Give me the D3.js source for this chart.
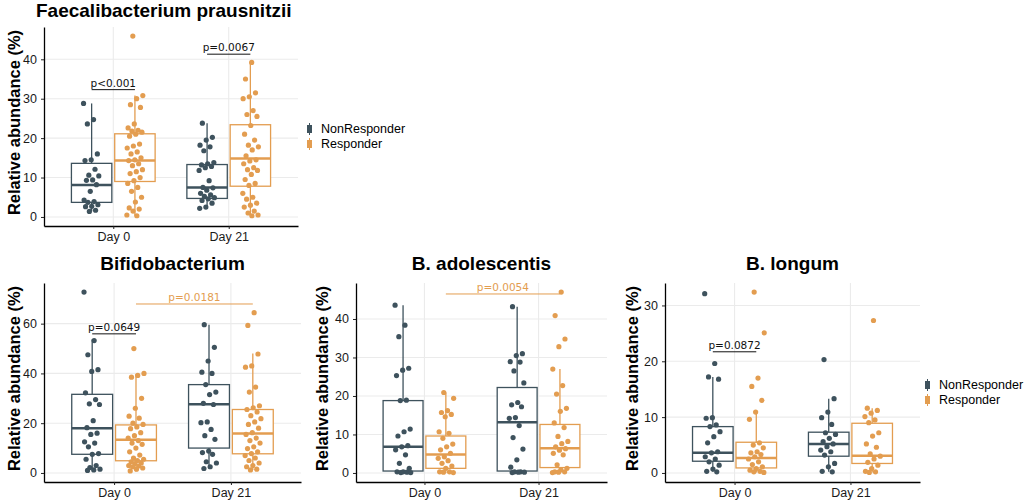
<!DOCTYPE html>
<html>
<head>
<meta charset="utf-8">
<script src="https://cdn.jsdelivr.net/npm/d3@7"></script>
<style>
  body { margin: 0; background: #fff; }
  text { font-family: "Liberation Sans", Arial, sans-serif; }
</style>
</head>
<body>
<svg id="chart" width="1024" height="501"></svg>
<script>
// ---------------- data ----------------
const days = ['Day 0', 'Day 21'];
const groups = ['NonResponder', 'Responder'];
const groupColors = ['#3e525d', '#e39d50'];

// Faecalibacterium prausnitzii (points per group, order: NR day0, R day0, NR day21, R day21)
const faecNR0 = [28.8, 24.7, 23.6, 16.0, 14.5, 14.3, 12.1, 10.6, 10.4, 9.4, 9.3, 8.2, 6.5, 4.3, 3.9, 3.7, 3.1, 2.7, 2.6, 1.7, 1.4];
const faecR0 = [45.9, 30.8, 30.0, 28.5, 27.8, 23.6, 22.6, 22.0, 21.8, 21.5, 21.0, 20.5, 18.5, 18.0, 17.5, 16.5, 16.0, 15.0, 14.5, 14.3, 13.5, 13.0, 12.0, 11.5, 11.0, 10.0, 9.2, 8.5, 7.5, 6.5, 5.0, 3.8, 2.3, 2.0, 1.5, 0.5, 0.3];
const faecNR21 = [23.8, 20.2, 19.5, 18.2, 17.8, 16.8, 13.8, 13.5, 13.2, 12.8, 12.5, 11.8, 9.2, 7.5, 7.4, 6.8, 6.0, 5.6, 5.2, 4.9, 4.6, 4.2, 3.5, 2.5, 2.2];
const faecR21 = [39.2, 35.0, 31.5, 30.5, 30.0, 27.0, 26.0, 25.5, 23.2, 21.0, 19.5, 18.2, 17.8, 17.0, 15.5, 14.5, 14.2, 13.5, 12.5, 12.0, 11.8, 10.8, 9.5, 8.5, 8.0, 6.0, 5.0, 4.5, 3.5, 3.0, 2.5, 1.5, 1.0, 0.5, 0.3];
// box stats: [lower whisker, q1, median, q3, upper whisker]
const faecBox = [[1.4, 3.7, 8.1, 13.6, 28.8], [0.3, 9.0, 14.3, 21.1, 30.8], [2.0, 4.7, 7.5, 13.3, 23.8], [0.3, 7.8, 14.8, 23.4, 39.2]];
const faecTicks = [0, 10, 20, 30, 40];

// Bifidobacterium
const bifNR0 = [72.7, 53.2, 47.5, 41.5, 40.8, 32.2, 29.5, 27.8, 27.5, 21.0, 18.2, 16.0, 15.5, 12.5, 12.0, 10.5, 7.8, 7.5, 5.5, 3.0, 2.2, 1.5, 1.2, 1.0];
const bifR0 = [50.0, 40.0, 39.2, 38.5, 30.0, 26.0, 22.8, 22.0, 20.0, 19.5, 18.5, 17.8, 16.2, 15.0, 14.0, 13.0, 12.0, 11.5, 10.0, 8.5, 7.2, 6.0, 5.5, 5.0, 4.5, 4.0, 3.8, 3.0, 2.8, 2.5, 2.0, 1.5, 0.8];
const bifNR21 = [59.6, 50.5, 45.0, 40.5, 40.0, 35.5, 32.5, 31.5, 28.0, 27.5, 20.5, 20.2, 17.5, 15.0, 13.5, 8.8, 8.2, 7.5, 4.5, 4.0, 2.5, 1.8];
const bifR21 = [64.4, 59.3, 47.8, 43.0, 42.5, 34.5, 32.5, 27.0, 26.2, 25.5, 24.5, 23.0, 21.8, 20.5, 19.5, 18.0, 16.2, 15.5, 14.0, 13.0, 12.0, 10.5, 9.8, 8.5, 7.8, 7.0, 6.0, 5.0, 4.0, 3.0, 2.5, 1.5, 1.2];
const bifBox = [[0.9, 7.5, 18.0, 31.6, 53.6], [0.6, 4.9, 13.3, 19.3, 39.8], [1.8, 10.0, 27.6, 35.5, 59.6], [1.2, 7.7, 15.9, 25.5, 48.0]];
const bifTicks = [0, 20, 40, 60];

// B. adolescentis
const adolNR0 = [43.6, 38.4, 35.4, 27.2, 26.7, 25.3, 18.9, 18.8, 11.4, 10.7, 9.6, 7.1, 6.8, 6.0, 4.7, 2.5, 1.2, 0.3, 0.3, 0.2, 0.1, 0.1];
const adolR0 = [20.9, 19.4, 16.2, 15.7, 15.2, 14.6, 10.7, 10.3, 9.0, 7.5, 6.8, 6.0, 5.1, 4.2, 3.8, 3.2, 2.5, 1.8, 1.2, 0.3, 0.3, 0.2, 0.1];
const adolNR21 = [43.2, 31.0, 30.5, 28.9, 28.8, 26.5, 23.4, 18.3, 17.7, 17.2, 14.4, 14.2, 12.3, 9.2, 6.2, 3.4, 1.5, 0.3, 0.3, 0.2, 0.2, 0.1];
const adolR21 = [47.0, 40.9, 34.8, 32.8, 27.0, 22.7, 20.5, 16.8, 16.0, 13.0, 11.8, 9.5, 8.2, 7.6, 6.8, 6.3, 5.9, 5.1, 4.7, 2.1, 1.2, 0.8, 0.3, 0.3, 0.2, 0.1];
const adolBox = [[0, 0.5, 6.8, 18.8, 43.6], [0, 1.2, 4.8, 9.6, 20.9], [0, 0.5, 13.2, 22.2, 43.2], [0, 1.4, 6.4, 12.6, 27.0]];
const adolTicks = [0, 10, 20, 30, 40];

// B. longum
const longNR0 = [32.1, 19.6, 17.2, 16.8, 9.9, 9.8, 8.6, 8.3, 7.4, 6.5, 5.4, 3.8, 3.6, 2.9, 2.5, 2.0, 1.4, 0.7, 0.3, 0.2];
const longR0 = [32.4, 25.1, 17.0, 15.5, 13.0, 10.9, 9.6, 5.4, 5.0, 4.5, 3.8, 3.6, 3.3, 2.9, 2.5, 2.0, 1.5, 1.1, 0.8, 0.5, 0.3, 0.2, 0.1];
const longNR21 = [20.3, 13.3, 10.9, 9.9, 8.7, 7.2, 6.9, 6.2, 5.6, 5.2, 4.7, 4.1, 3.8, 3.2, 1.7, 1.1, 0.3, 0.2];
const longR21 = [27.3, 11.6, 11.2, 10.7, 10.1, 9.5, 9.0, 7.2, 6.6, 5.2, 4.6, 3.4, 3.0, 2.5, 1.9, 1.4, 0.8, 0.3, 0.2, 0.1];
const longBox = [[0.2, 2.1, 3.6, 8.3, 17.2], [0.1, 0.9, 2.7, 5.5, 10.9], [0.2, 3.0, 5.2, 7.3, 13.3], [0.1, 1.7, 3.1, 8.9, 11.6]];
const longTicks = [0, 10, 20, 30];

// p-value brackets: [day, group] endpoints, y value, label, colour index (-1 = black)
const faecP = [
  { a: [0, 0], b: [0, 1], y: 32.3, label: 'p<0.001', c: -1 },
  { a: [1, 0], b: [1, 1], y: 41.3, label: 'p=0.0067', c: -1 }
];
const bifP = [
  { a: [0, 0], b: [0, 1], y: 55.9, label: 'p=0.0649', c: -1 },
  { a: [0, 1], b: [1, 1], y: 67.9, label: 'p=0.0181', c: 1 }
];
const adolP = [
  { a: [0, 1], b: [1, 1], y: 46.5, label: 'p=0.0054', c: 1 }
];
const longP = [
  { a: [0, 0], b: [0, 1], y: 21.7, label: 'p=0.0872', c: -1 }
];

// ---------------- layout ----------------
const panels = [
  { title: 'Faecalibacterium prausnitzii', titleX: 36, titleY: 17, titleAnchor: 'start', titleSize: 19,
    pts: [faecNR0, faecR0, faecNR21, faecR21], box: faecBox, ticks: faecTicks, pv: faecP,
    x0: 44, x1: 298, y0: 27, y1: 226, ytitleX: 14, legend: [307, 129] },
  { title: 'Bifidobacterium', titleY: 270, titleAnchor: 'middle', titleSize: 19,
    pts: [bifNR0, bifR0, bifNR21, bifR21], box: bifBox, ticks: bifTicks, pv: bifP,
    x0: 44, x1: 301, y0: 283, y1: 482, ytitleX: 14 },
  { title: 'B. adolescentis', titleY: 270, titleAnchor: 'middle', titleSize: 19,
    pts: [adolNR0, adolR0, adolNR21, adolR21], box: adolBox, ticks: adolTicks, pv: adolP,
    x0: 356, x1: 607, y0: 283, y1: 482, ytitleX: 322 },
  { title: 'B. longum', titleY: 270, titleAnchor: 'middle', titleSize: 19,
    pts: [longNR0, longR0, longNR21, longR21], box: longBox, ticks: longTicks, pv: longP,
    x0: 665, x1: 920, y0: 283, y1: 482, ytitleX: 632, legend: [925, 385] }
];

const svg = d3.select('#chart');
svg.append('rect').attr('width', 1024).attr('height', 501).attr('fill', '#fff');

panels.forEach(function(p) {
  const g = svg.append('g');

  const x = d3.scalePoint().domain(days).range([p.x0, p.x1]).padding(0.6);
  const step = x.step();
  const dodge = step * 0.1875;
  const boxW = step * 0.35;
  const jw = step * 0.07;

  const all = p.pts.flat();
  const lo = Math.min(0, d3.min(all));
  const hi = d3.max(all);
  const pad = (hi - lo) * 0.05;
  const y = d3.scaleLinear().domain([lo - pad, hi + pad]).range([p.y1, p.y0]);

  // grid
  g.selectAll('.hgrid').data(p.ticks).enter().append('line')
    .attr('x1', p.x0).attr('x2', p.x1)
    .attr('y1', d => y(d)).attr('y2', d => y(d))
    .attr('stroke', '#ebebeb').attr('stroke-width', 1.1);
  g.selectAll('.vgrid').data(days).enter().append('line')
    .attr('x1', d => x(d)).attr('x2', d => x(d))
    .attr('y1', p.y0).attr('y2', p.y1)
    .attr('stroke', '#ebebeb').attr('stroke-width', 1.1);

  // boxes
  const cells = [];
  days.forEach(function(day, di) {
    groups.forEach(function(grp, gi) {
      cells.push({ di: di, gi: gi, cx: x(day) + (gi === 0 ? -dodge : dodge),
                   stats: p.box[di * 2 + gi], vals: p.pts[di * 2 + gi] });
    });
  });

  cells.forEach(function(c) {
    const col = groupColors[c.gi];
    const s = c.stats;
    g.append('line').attr('x1', c.cx).attr('x2', c.cx)
      .attr('y1', y(s[0])).attr('y2', y(s[4]))
      .attr('stroke', col).attr('stroke-width', 1.3);
    g.append('rect')
      .attr('x', c.cx - boxW / 2).attr('width', boxW)
      .attr('y', y(s[3])).attr('height', y(s[1]) - y(s[3]))
      .attr('fill', '#fff').attr('stroke', col).attr('stroke-width', 1.3);
    g.append('line').attr('x1', c.cx - boxW / 2).attr('x2', c.cx + boxW / 2)
      .attr('y1', y(s[2])).attr('y2', y(s[2]))
      .attr('stroke', col).attr('stroke-width', 2.5);
  });

  // jittered points (deterministic spread)
  cells.forEach(function(c) {
    g.selectAll(null).data(c.vals).enter().append('circle')
      .attr('cx', (d, i) => c.cx + (((i * 0.6180339887 + c.gi * 0.37 + c.di * 0.21) % 1) - 0.5) * 2 * jw)
      .attr('cy', d => y(d))
      .attr('r', 2.6)
      .attr('fill', groupColors[c.gi]);
  });

  // p-values
  p.pv.forEach(function(pv) {
    const xa = x(days[pv.a[0]]) + (pv.a[1] === 0 ? -dodge : dodge);
    const xb = x(days[pv.b[0]]) + (pv.b[1] === 0 ? -dodge : dodge);
    const col = pv.c < 0 ? '#111' : groupColors[pv.c];
    g.append('line').attr('x1', xa).attr('x2', xb)
      .attr('y1', y(pv.y)).attr('y2', y(pv.y))
      .attr('stroke', col).attr('stroke-width', 1);
    g.append('text').attr('x', (xa + xb) / 2).attr('y', y(pv.y) - 3)
      .attr('text-anchor', 'middle')
      .style('font-family', '"DejaVu Sans", sans-serif')
      .style('font-size', '10.5px')
      .attr('fill', col)
      .text(pv.label);
  });

  // axes
  const yAxis = d3.axisLeft(y).tickValues(p.ticks).tickSize(3).tickSizeOuter(0).tickPadding(4);
  const xAxis = d3.axisBottom(x).tickSize(3).tickSizeOuter(0).tickPadding(3);
  const ya = g.append('g').attr('transform', 'translate(' + p.x0 + ',0)').call(yAxis);
  const xa = g.append('g').attr('transform', 'translate(0,' + p.y1 + ')').call(xAxis);
  [ya, xa].forEach(function(a) {
    a.select('.domain').attr('stroke', '#000').attr('stroke-width', 1.3);
    a.selectAll('.tick line').attr('stroke', '#222');
    a.selectAll('.tick text').attr('fill', '#1a1a1a')
      .style('font-family', '"Liberation Sans", Arial, sans-serif').style('font-size', '12.5px');
  });

  // y title
  g.append('text')
    .attr('transform', 'translate(' + p.ytitleX + ',' + ((p.y0 + p.y1) / 2 - 4) + ') rotate(-90)')
    .attr('text-anchor', 'middle').attr('dy', '0.35em')
    .style('font-size', '16.5px').style('font-weight', 'bold')
    .attr('fill', '#000')
    .text('Relative abundance (%)');

  // title
  g.append('text')
    .attr('x', p.titleAnchor === 'start' ? p.titleX : (p.x0 + p.x1) / 2)
    .attr('y', p.titleY)
    .attr('text-anchor', p.titleAnchor)
    .style('font-size', p.titleSize + 'px').style('font-weight', 'bold')
    .attr('fill', '#000')
    .text(p.title);

  // legend
  if (p.legend) {
    const lg = g.append('g').attr('transform', 'translate(' + p.legend[0] + ',' + p.legend[1] + ')');
    groups.forEach(function(grp, gi) {
      const ky = gi * 15;
      lg.append('line').attr('x1', 2.5).attr('x2', 2.5).attr('y1', ky - 6).attr('y2', ky + 6)
        .attr('stroke', groupColors[gi]).attr('stroke-width', 1);
      lg.append('rect').attr('x', 0).attr('y', ky - 4).attr('width', 5).attr('height', 8)
        .attr('fill', groupColors[gi]);
      lg.append('text').attr('x', 14).attr('y', ky).attr('dy', '0.35em')
        .style('font-size', '12.5px').attr('fill', '#000').text(grp);
    });
  }
});
</script>
</body>
</html>
